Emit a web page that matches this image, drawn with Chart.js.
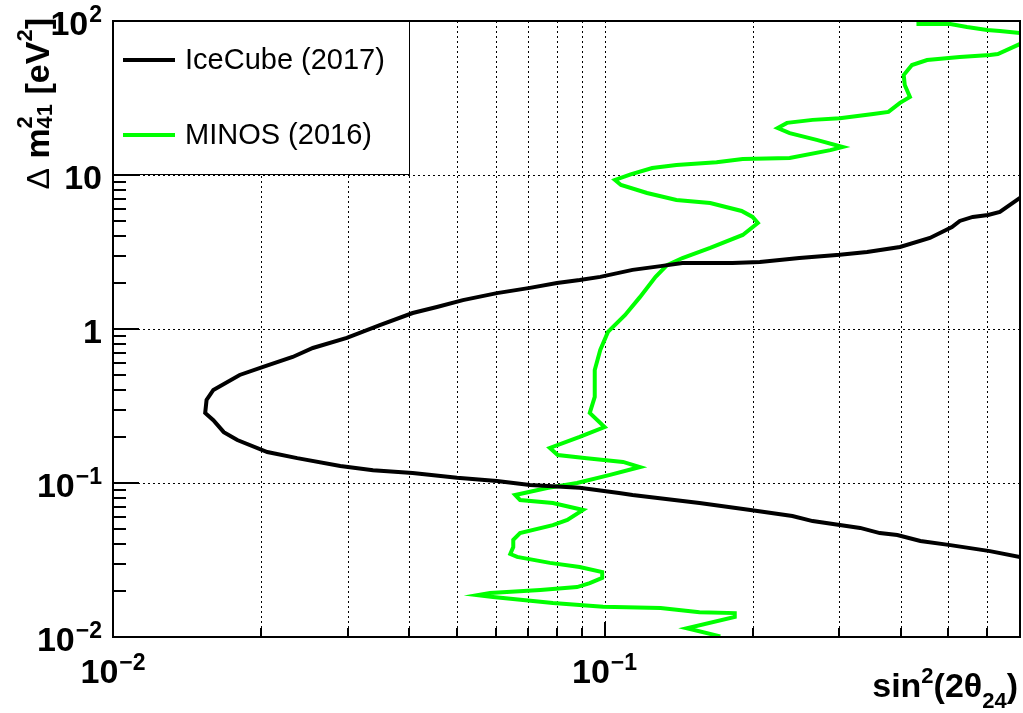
<!DOCTYPE html>
<html>
<head>
<meta charset="utf-8">
<script src="https://cdn.jsdelivr.net/npm/chart.js@4/dist/chart.umd.min.js"></script>
<style>
  html, body { margin: 0; padding: 0; background: #ffffff; }
  canvas { display: block; }
</style>
</head>
<body>
<canvas id="c" width="1023" height="713"></canvas>
<script>
// Sterile-neutrino exclusion contours: sin^2(2θ24) vs Δm²41 [eV²]
const iceCubeSin2 = [0.700, 0.637, 0.603, 0.561, 0.528, 0.509, 0.459, 0.399, 0.342, 0.301,
  0.249, 0.207, 0.182, 0.144, 0.130, 0.114, 0.098, 0.089, 0.080, 0.0705,
  0.0604, 0.0515, 0.0456, 0.0407, 0.0349, 0.0299, 0.0255, 0.0232, 0.0202, 0.0181,
  0.0160, 0.0155, 0.0154, 0.0160, 0.0168, 0.0179, 0.0206, 0.0237, 0.0290, 0.0338,
  0.0407, 0.0501, 0.0604, 0.0705, 0.089, 0.107, 0.114, 0.156, 0.198, 0.241,
  0.265, 0.331, 0.363, 0.394, 0.439, 0.505, 0.608, 0.700];
const iceCubeDm2 = [7.10, 5.75, 5.50, 5.34, 5.03, 4.59, 3.90, 3.41, 3.16, 3.03,
  2.89, 2.72, 2.68, 2.68, 2.56, 2.42, 2.18, 2.08, 1.99, 1.85,
  1.71, 1.54, 1.39, 1.27, 1.06, 0.875, 0.753, 0.658, 0.567, 0.503,
  0.402, 0.346, 0.285, 0.256, 0.214, 0.190, 0.159, 0.145, 0.129, 0.121,
  0.116, 0.108, 0.103, 0.097, 0.093, 0.0861, 0.0836, 0.0741, 0.0668, 0.0611,
  0.0566, 0.0511, 0.0473, 0.0459, 0.0420, 0.0395, 0.0361, 0.0331];

const minosSin2 = [0.431, 0.505, 0.546, 0.600, 0.637, 0.700, 0.780, 0.700, 0.631, 0.608,
  0.528, 0.453, 0.422, 0.406, 0.408, 0.418, 0.399, 0.378, 0.352, 0.301,
  0.265, 0.235, 0.225, 0.238, 0.270, 0.305, 0.288, 0.238, 0.191, 0.169,
  0.140, 0.125, 0.113, 0.105, 0.108, 0.122, 0.140, 0.164, 0.190, 0.200,
  0.205, 0.191, 0.164, 0.144, 0.134, 0.127, 0.118, 0.110, 0.1016, 0.098,
  0.0955, 0.0955, 0.0933, 0.100, 0.089, 0.0774, 0.0803, 0.0920, 0.109, 0.118,
  0.1026, 0.0879, 0.0764, 0.0658, 0.0673, 0.0785, 0.0904, 0.0840, 0.0785, 0.0673,
  0.0652, 0.0652, 0.0643, 0.0664, 0.0774, 0.089, 0.0989, 0.0989, 0.0933, 0.0879,
  0.0740, 0.0585, 0.0552, 0.0593, 0.0785, 0.0993, 0.130, 0.156, 0.184, 0.184,
  0.147, 0.172];
const minosDm2 = [95.6, 95.6, 91.4, 87.4, 86.1, 83.6, 77.6, 70.9, 61.1, 60.2,
  58.4, 55.8, 51.8, 44.6, 38.4, 32.1, 29.4, 25.7, 24.9, 23.4,
  22.8, 21.8, 20.2, 18.7, 16.9, 15.2, 14.5, 12.9, 12.7, 12.1,
  11.6, 11.1, 10.1, 9.29, 8.61, 7.64, 6.88, 6.58, 5.84, 5.34,
  4.88, 4.08, 3.36, 2.89, 2.60, 2.18, 1.61, 1.23, 0.957, 0.731,
  0.542, 0.362, 0.285, 0.231, 0.199, 0.169, 0.152, 0.145, 0.137, 0.127,
  0.113, 0.100, 0.0929, 0.0836, 0.0776, 0.0741, 0.0668, 0.0575, 0.0533, 0.0473,
  0.0427, 0.0384, 0.0346, 0.0331, 0.0303, 0.0285, 0.0264, 0.0242, 0.0224, 0.0211,
  0.0202, 0.0193, 0.0187, 0.0182, 0.0166, 0.0157, 0.0154, 0.0145, 0.0143, 0.0135,
  0.0114, 0.0101];

const seriesNames = ['IceCube (2017)', 'MINOS (2016)'];
const seriesColors = ['#000000', '#00ff00'];

const xRange = [0.01, 0.7];
const yRange = [0.01, 100];
const xTickValues = [0.01, 0.1];
const xTickLabels = [['10', '\u22122'], ['10', '\u22121']];
const yTickValues = [100, 10, 1, 0.1, 0.01];
const yTickLabels = [['10', '2'], ['10', ''], ['1', ''], ['10', '\u22121'], ['10', '\u22122']];

const FONT = "'Liberation Sans', Arial, Helvetica, sans-serif";
const BIG = 'bold 34px ' + FONT;
const SMALL = 'bold 23px ' + FONT;

function toPoints(xs, ys) {
  return xs.map((x, i) => ({ x: x, y: ys[i] }));
}

// minor/major positions of a log axis between lo and hi
function logSteps(lo, hi) {
  const out = [];
  for (let e = Math.floor(Math.log10(lo)); e <= Math.ceil(Math.log10(hi)); e++) {
    for (let k = 1; k <= 9; k++) {
      const v = k * Math.pow(10, e);
      if (v >= lo * 0.999 && v <= hi * 1.001) out.push({ v: v, major: k === 1 });
    }
  }
  return out;
}

function drawPow(ctx, base, exp, x, y, align) {
  ctx.font = BIG;
  const wb = ctx.measureText(base).width;
  ctx.font = SMALL;
  const we = exp ? ctx.measureText(exp).width + 1 : 0;
  const total = wb + we;
  const x0 = align === 'right' ? x - total : align === 'center' ? x - total / 2 : x;
  ctx.textAlign = 'left';
  ctx.textBaseline = 'alphabetic';
  ctx.font = BIG;
  ctx.fillText(base, x0, y);
  if (exp) {
    ctx.font = SMALL;
    ctx.fillText(exp, x0 + wb + 1, y - 13);
  }
}

// draws a run of text pieces left to right; a piece marked stack shares x with the next
function drawRuns(ctx, runs, x, y) {
  let cx = x;
  let pendingW = 0;
  runs.forEach(r => {
    ctx.font = r.font;
    ctx.fillText(r.text, cx, y + (r.dy || 0));
    const w = ctx.measureText(r.text).width;
    if (r.stack) {
      pendingW = Math.max(pendingW, w);
    } else {
      cx += Math.max(w, pendingW);
      pendingW = 0;
    }
  });
  return cx - x;
}

function measureRuns(ctx, runs) {
  let total = 0, pendingW = 0;
  runs.forEach(r => {
    ctx.font = r.font;
    const w = ctx.measureText(r.text).width;
    if (r.stack) pendingW = Math.max(pendingW, w);
    else { total += Math.max(w, pendingW); pendingW = 0; }
  });
  return total;
}

const frameDecor = {
  id: 'frameDecor',
  beforeDatasetsDraw(chart) {
    const ctx = chart.ctx;
    const a = chart.chartArea;
    const xs = chart.scales.x, ys = chart.scales.y;
    ctx.save();
    ctx.strokeStyle = '#000000';
    ctx.lineWidth = 1;
    ctx.setLineDash([2, 3]);
    logSteps(xRange[0], xRange[1]).forEach(t => {
      const px = Math.round(xs.getPixelForValue(t.v)) + 0.5;
      if (px <= a.left + 2 || px >= a.right - 2) return;
      ctx.beginPath();
      ctx.moveTo(px, a.top);
      ctx.lineTo(px, a.bottom);
      ctx.stroke();
    });
    yTickValues.forEach(v => {
      const py = Math.round(ys.getPixelForValue(v)) + 0.5;
      if (py <= a.top + 2 || py >= a.bottom - 2) return;
      ctx.beginPath();
      ctx.moveTo(a.left, py);
      ctx.lineTo(a.right, py);
      ctx.stroke();
    });
    ctx.restore();
  },
  afterDatasetsDraw(chart) {
    const ctx = chart.ctx;
    const a = chart.chartArea;
    const xs = chart.scales.x, ys = chart.scales.y;
    ctx.save();
    ctx.strokeStyle = '#000000';
    ctx.fillStyle = '#000000';
    ctx.setLineDash([]);

    // tick marks
    ctx.lineWidth = 2;
    logSteps(xRange[0], xRange[1]).forEach(t => {
      const px = Math.round(xs.getPixelForValue(t.v));
      const len = t.major ? 15 : 9;
      ctx.beginPath();
      ctx.moveTo(px, a.bottom);
      ctx.lineTo(px, a.bottom - len);
      ctx.stroke();
    });
    logSteps(yRange[0], yRange[1]).forEach(t => {
      const py = Math.round(ys.getPixelForValue(t.v));
      const len = t.major ? 26 : 13;
      ctx.beginPath();
      ctx.moveTo(a.left, py);
      ctx.lineTo(a.left + len, py);
      ctx.stroke();
    });

    // legend box
    const lg = { left: a.left, top: a.top, right: 409, bottom: 174 };
    ctx.fillStyle = '#ffffff';
    ctx.fillRect(lg.left, lg.top, lg.right - lg.left, lg.bottom - lg.top);
    ctx.lineWidth = 1;
    ctx.strokeStyle = '#000000';
    ctx.strokeRect(lg.left + 0.5, lg.top + 0.5, lg.right - lg.left, lg.bottom - lg.top);
    const rowY = [60, 135];
    seriesNames.forEach((name, i) => {
      ctx.strokeStyle = seriesColors[i];
      ctx.lineWidth = 4;
      ctx.beginPath();
      ctx.moveTo(123, rowY[i]);
      ctx.lineTo(175, rowY[i]);
      ctx.stroke();
      ctx.fillStyle = '#000000';
      ctx.font = '29px ' + FONT;
      ctx.textAlign = 'left';
      ctx.textBaseline = 'middle';
      ctx.fillText(name, 185, rowY[i] + 1);
    });

    // frame
    ctx.strokeStyle = '#000000';
    ctx.lineWidth = 2;
    ctx.strokeRect(a.left, a.top, a.right - a.left, a.bottom - a.top);

    // tick labels
    ctx.fillStyle = '#000000';
    yTickValues.forEach((v, i) => {
      const py = ys.getPixelForValue(v);
      drawPow(ctx, yTickLabels[i][0], yTickLabels[i][1], 102, py + 14, 'right');
    });
    xTickValues.forEach((v, i) => {
      const px = xs.getPixelForValue(v);
      drawPow(ctx, xTickLabels[i][0], xTickLabels[i][1], px, 683, 'center');
    });

    // x title: sin^2(2θ_24)
    ctx.textAlign = 'left';
    ctx.textBaseline = 'alphabetic';
    const xTitle = [
      { text: 'sin', font: BIG },
      { text: '2', font: 'bold 22px ' + FONT, dy: -14 },
      { text: '(2\u03b8', font: BIG },
      { text: '24', font: 'bold 22px ' + FONT, dy: 11 },
      { text: ')', font: BIG }
    ];
    const wx = measureRuns(ctx, xTitle);
    drawRuns(ctx, xTitle, 1018 - wx, 697);

    // y title: Δ m^2_41 [eV^2], rotated
    const yTitle = [
      { text: '\u0394', font: '32px ' + FONT },
      { text: ' m', font: BIG },
      { text: '2', font: 'bold 22px ' + FONT, dy: -17, stack: true },
      { text: '41', font: 'bold 22px ' + FONT, dy: 3 },
      { text: ' [eV', font: BIG },
      { text: '2', font: 'bold 22px ' + FONT, dy: -17 },
      { text: ']', font: BIG }
    ];
    const wy = measureRuns(ctx, yTitle);
    ctx.translate(49, 18 + wy);
    ctx.rotate(-Math.PI / 2);
    drawRuns(ctx, yTitle, 0, 0);
    ctx.restore();
  }
};

new Chart(document.getElementById('c'), {
  type: 'scatter',
  data: {
    datasets: [
      {
        label: seriesNames[0],
        data: toPoints(iceCubeSin2, iceCubeDm2),
        showLine: true,
        borderColor: seriesColors[0],
        borderWidth: 4,
        pointRadius: 0,
        tension: 0,
        clip: 0
      },
      {
        label: seriesNames[1],
        data: toPoints(minosSin2, minosDm2),
        showLine: true,
        borderColor: seriesColors[1],
        borderWidth: 4,
        pointRadius: 0,
        tension: 0,
        clip: 0
      }
    ]
  },
  options: {
    responsive: false,
    devicePixelRatio: 1,
    animation: false,
    layout: { padding: { left: 113, top: 21, right: 3, bottom: 76 } },
    scales: {
      x: { type: 'logarithmic', min: xRange[0], max: xRange[1], display: false },
      y: { type: 'logarithmic', min: yRange[0], max: yRange[1], display: false }
    },
    plugins: {
      legend: { display: false },
      tooltip: { enabled: false }
    }
  },
  plugins: [frameDecor]
});
</script>
</body>
</html>
